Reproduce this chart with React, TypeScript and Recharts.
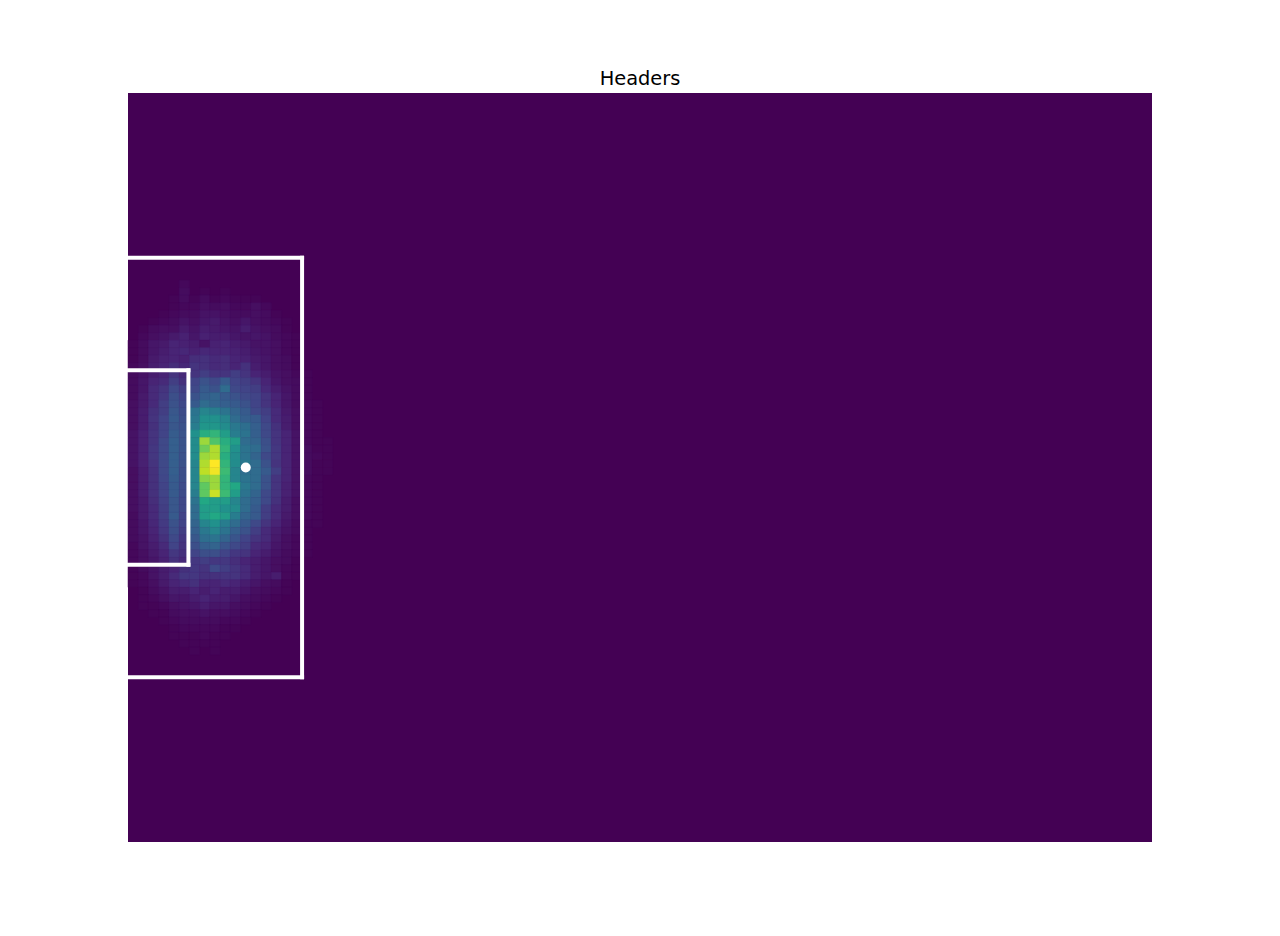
import { ComposedChart, XAxis, YAxis, ReferenceArea, ReferenceLine, Scatter } from "recharts";

// Opta-style pitch, 100 x 100 bins; only the non-empty corner is listed.
const FIRST_ROW = 24;
const FIRST_COL = 0;

// rows 24-36 (above the six-yard box)
const heatUpper: number[][] = [
  [0, 0, 0, 0, 0, 0, 0, 0, 0, 0, 0, 0, 0, 0],
  [0, 0, 0, 0, 0, 2, 0, 0, 0, 0, 0, 0, 0, 0],
  [0, 0, 0, 0, 0, 3, 0, 1, 0, 1, 0, 0, 0, 0],
  [0, 0, 0, 0, 1, 3, 1, 3, 1, 2, 1, 1, 1, 0],
  [0, 0, 0, 0, 1, 2, 2, 4, 3, 4, 2, 2, 4, 2, 0],
  [0, 0, 0, 1, 2, 3, 3, 5, 5, 4, 3, 3, 4, 3, 1],
  [0, 0, 1, 2, 3, 5, 4, 6, 7, 5, 4, 6, 4, 3, 2, 1],
  [0, 1, 3, 4, 4, 7, 5, 8, 7, 6, 5, 8, 5, 4, 3, 1],
  [0, 2, 4, 5, 7, 9, 6, 9, 8, 8, 6, 5, 6, 5, 3, 2, 1],
  [1, 3, 6, 7, 10, 9, 8, 5, 9, 10, 8, 7, 5, 5, 4, 2, 1],
  [1, 3, 6, 8, 10, 11, 9, 11, 10, 10, 9, 8, 6, 5, 4, 2, 1],
  [1, 3, 7, 9, 10, 9, 13, 14, 12, 13, 10, 9, 7, 6, 4, 3, 1],
  [2, 4, 8, 10, 13, 11, 15, 14, 12, 13, 10, 14, 8, 6, 4, 3, 1],
];

// rows 37-53 (beside the six-yard box, the hot spot)
const heatCore: number[][] = [
  [3, 5, 8, 10, 15, 12, 15, 18, 15, 15, 18, 15, 10, 8, 5, 4, 2, 1],
  [3, 6, 10, 12, 18, 14, 20, 25, 22, 28, 20, 18, 15, 10, 6, 4, 3, 1],
  [3, 6, 12, 15, 22, 18, 22, 28, 25, 35, 22, 20, 18, 12, 8, 5, 3, 1],
  [3, 7, 12, 16, 24, 20, 25, 30, 32, 28, 25, 22, 20, 15, 10, 6, 3, 1],
  [4, 7, 12, 18, 25, 22, 28, 35, 32, 30, 28, 25, 20, 15, 10, 6, 3, 2, 1],
  [4, 8, 14, 18, 27, 23, 38, 45, 42, 38, 32, 28, 22, 18, 12, 7, 4, 2, 1],
  [4, 8, 15, 20, 28, 24, 40, 50, 50, 45, 35, 30, 28, 20, 12, 8, 4, 2, 1],
  [4, 8, 14, 20, 27, 25, 42, 52, 52, 48, 40, 36, 30, 22, 14, 8, 4, 2, 1],
  [5, 9, 15, 20, 29, 26, 50, 62, 65, 55, 42, 38, 30, 22, 15, 10, 5, 2, 1],
  [5, 9, 15, 22, 30, 26, 48, 85, 72, 62, 55, 35, 32, 24, 15, 10, 5, 2, 1, 1],
  [5, 9, 16, 22, 30, 26, 48, 78, 88, 65, 50, 38, 35, 25, 16, 10, 5, 3, 1, 1],
  [5, 9, 16, 22, 30, 25, 48, 85, 88, 62, 48, 38, 32, 22, 16, 10, 5, 3, 2, 1],
  [5, 9, 15, 22, 30, 25, 45, 88, 100, 65, 48, 40, 35, 25, 15, 10, 5, 3, 1, 1],
  [4, 8, 14, 22, 30, 24, 45, 90, 98, 68, 45, 36, 35, 28, 18, 10, 5, 3, 1, 1],
  [4, 8, 14, 21, 29, 24, 45, 82, 85, 65, 45, 38, 35, 25, 15, 10, 5, 2, 1],
  [4, 8, 14, 20, 28, 23, 45, 75, 85, 65, 60, 40, 35, 25, 15, 9, 5, 2, 1],
  [4, 8, 14, 20, 28, 23, 42, 75, 92, 68, 55, 38, 32, 22, 15, 9, 5, 2, 1],
];

// rows 54-75 (below the hot spot)
const heatLower: number[][] = [
  [4, 7, 13, 19, 27, 22, 38, 60, 55, 55, 45, 35, 30, 22, 14, 8, 4, 2, 1],
  [4, 7, 12, 18, 27, 22, 35, 55, 55, 50, 48, 35, 28, 18, 12, 8, 4, 2, 1],
  [3, 7, 12, 18, 28, 20, 35, 55, 60, 55, 42, 32, 28, 18, 12, 7, 4, 2, 1],
  [3, 6, 11, 17, 25, 20, 32, 45, 50, 42, 35, 28, 22, 15, 10, 6, 3, 1, 1],
  [3, 6, 10, 16, 24, 18, 30, 40, 45, 38, 30, 25, 18, 12, 8, 5, 3, 1],
  [3, 5, 9, 14, 22, 16, 27, 36, 38, 32, 26, 20, 15, 12, 7, 4, 2, 1],
  [2, 5, 8, 12, 20, 15, 24, 30, 32, 26, 22, 18, 12, 10, 6, 4, 2, 1],
  [2, 4, 7, 10, 16, 14, 20, 24, 24, 20, 16, 15, 10, 8, 5, 3, 2, 1],
  [2, 4, 6, 9, 14, 12, 16, 18, 16, 16, 13, 10, 8, 6, 4, 3, 1],
  [1, 3, 5, 8, 10, 14, 16, 15, 22, 18, 15, 12, 8, 6, 4, 2, 1],
  [1, 2, 5, 8, 12, 16, 16, 14, 14, 15, 15, 12, 8, 6, 8, 2, 1],
  [1, 2, 4, 7, 10, 12, 14, 10, 10, 12, 10, 8, 6, 4, 3, 1],
  [0, 1, 3, 5, 8, 8, 10, 8, 10, 8, 8, 6, 4, 3, 2, 1],
  [0, 1, 2, 4, 6, 6, 8, 10, 8, 8, 6, 4, 3, 2, 1],
  [0, 1, 1, 2, 4, 5, 6, 8, 6, 6, 4, 3, 2, 1],
  [0, 0, 1, 1, 3, 4, 4, 5, 4, 4, 3, 2, 1],
  [0, 0, 0, 1, 2, 3, 3, 3, 3, 2, 2, 1],
  [0, 0, 0, 0, 1, 2, 2, 2, 2, 1, 1],
  [0, 0, 0, 0, 1, 1, 1, 2, 1, 1],
  [0, 0, 0, 0, 0, 1, 1, 1, 1],
  [0, 0, 0, 0, 0, 0, 1, 0, 1],
  [0, 0, 0, 0, 0, 0, 0, 0, 0],
];

// pitch markings (Opta units)
const boxDepth = 17;
const boxTop = 22;
const boxBottom = 78;
const sixDepth = 5.9;
const sixTop = 37;
const sixBottom = 63;
const penaltySpot = [{ x: 11.5, y: 50 }];

const VIRIDIS = [
  "#440154", "#482475", "#414487", "#355f8d", "#2a788e", "#21918c",
  "#22a884", "#44bf70", "#7ad151", "#bddf26", "#fde725",
];

function hexToRgb(h: string) {
  const n = parseInt(h.slice(1), 16);
  return [(n >> 16) & 255, (n >> 8) & 255, n & 255];
}

function viridis(v: number) {
  const t = Math.max(0, Math.min(1, v / 100)) * (VIRIDIS.length - 1);
  const i = Math.min(Math.floor(t), VIRIDIS.length - 2);
  const f = t - i;
  const a = hexToRgb(VIRIDIS[i]);
  const b = hexToRgb(VIRIDIS[i + 1]);
  const c = a.map((ch, k) => Math.round(ch + (b[k] - ch) * f));
  return `rgb(${c[0]},${c[1]},${c[2]})`;
}

const grid = [...heatUpper, ...heatCore, ...heatLower];
const cells = grid.flatMap((row, r) =>
  row
    .map((v, c) => ({ x: FIRST_COL + c, y: FIRST_ROW + r, v }))
    .filter((d) => d.v > 0),
);

const LINE = { stroke: "#ffffff", strokeWidth: 4, strokeLinecap: "square" as const };

export default function App() {
  return (
    <div style={{ position: "absolute", left: 0, top: 0, width: 1280, height: 936, background: "#fff" }}>
      <div
        style={{
          position: "absolute",
          top: 67,
          width: 1280,
          textAlign: "center",
          fontFamily: "DejaVu Sans",
          fontSize: 19.4,
          lineHeight: "24px",
          color: "#000",
        }}
      >
        Headers
      </div>
      <ComposedChart width={1280} height={936} margin={{ top: 93, right: 128, bottom: 94, left: 128 }}>
        <XAxis type="number" dataKey="x" domain={[0, 100]} hide allowDataOverflow />
        <YAxis type="number" dataKey="y" domain={[0, 100]} hide reversed allowDataOverflow />
        <ReferenceArea x1={0} x2={100} y1={0} y2={100} fill="#440154" fillOpacity={1} stroke="none" />
        {cells.map((d) => (
          <ReferenceArea
            key={`${d.x}-${d.y}`}
            x1={d.x}
            x2={d.x + 1}
            y1={d.y}
            y2={d.y + 1}
            fill={viridis(d.v)}
            fillOpacity={1}
            stroke={viridis(d.v)}
            strokeWidth={0.5}
          />
        ))}
        <ReferenceLine segment={[{ x: 0, y: boxTop }, { x: boxDepth, y: boxTop }]} {...LINE} />
        <ReferenceLine segment={[{ x: boxDepth, y: boxTop }, { x: boxDepth, y: boxBottom }]} {...LINE} />
        <ReferenceLine segment={[{ x: 0, y: boxBottom }, { x: boxDepth, y: boxBottom }]} {...LINE} />
        <ReferenceLine segment={[{ x: 0, y: sixTop }, { x: sixDepth, y: sixTop }]} {...LINE} />
        <ReferenceLine segment={[{ x: sixDepth, y: sixTop }, { x: sixDepth, y: sixBottom }]} {...LINE} />
        <ReferenceLine segment={[{ x: 0, y: sixBottom }, { x: sixDepth, y: sixBottom }]} {...LINE} />
        <Scatter
          data={penaltySpot}
          dataKey="y"
          fill="#ffffff"
          isAnimationActive={false}
          shape={(p: any) => <circle cx={p.cx} cy={p.cy} r={5} fill="#ffffff" />}
        />
      </ComposedChart>
    </div>
  );
}
